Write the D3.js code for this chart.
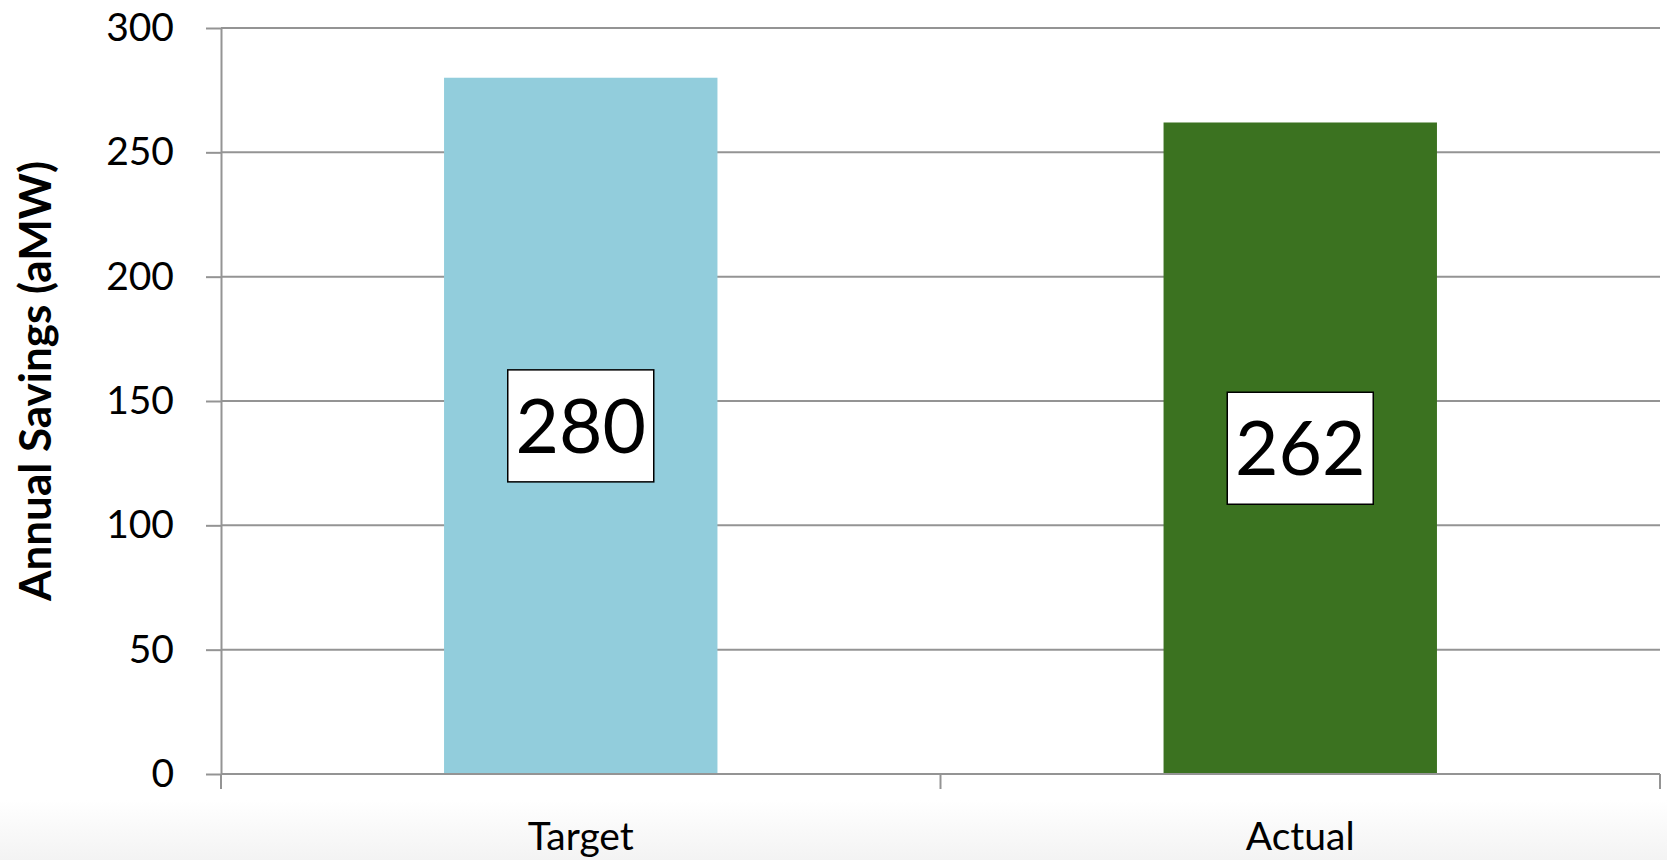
<!DOCTYPE html>
<html>
<head>
<meta charset="utf-8">
<title>Annual Savings</title>
<script src="https://cdn.jsdelivr.net/npm/d3@7"></script>
<style>
body { margin: 0; background: #fff; }
text { font-family: Lato, "Open Sans", sans-serif; fill: #000; }
.grid line { stroke: #949494; stroke-width: 2px; }
.axis path, .axis line { stroke: #949494; stroke-width: 2px; }
</style>
</head>
<body>
<svg width="1667" height="860"></svg>
<script>

var categories = ["Target", "Actual"];
var values = [280, 262];
var colors = ["#92cddc", "#3b7220"];
var yTicks = [0, 50, 100, 150, 200, 250, 300];
var yTitle = "Annual Savings (aMW)";

var svg = d3.select("svg"),
	width = +svg.attr("width"),
	height = +svg.attr("height");

var margin = {top: 28, right: 7, bottom: 86, left: 221};

// faint grey band at the foot of the slide
var defs = svg.append("defs");
var grad = defs.append("linearGradient")
	.attr("id", "foot")
	.attr("x1", 0).attr("y1", 0).attr("x2", 0).attr("y2", 1);
grad.append("stop").attr("offset", "0%").attr("stop-color", "#ffffff");
grad.append("stop").attr("offset", "100%").attr("stop-color", "#f3f3f3");
svg.append("rect")
	.attr("x", 0).attr("y", 800)
	.attr("width", width).attr("height", height - 800)
	.attr("fill", "url(#foot)");

var x = d3.scaleBand()
	.domain(categories)
	.range([margin.left, width - margin.right]);

var y = d3.scaleLinear()
	.domain([0, 300])
	.range([height - margin.bottom, margin.top]);

// horizontal gridlines
svg.append("g")
	.attr("class", "grid")
  .selectAll("line")
  .data(yTicks)
  .enter().append("line")
	.attr("x1", margin.left)
	.attr("x2", width - margin.right)
	.attr("y1", function(d) { return y(d); })
	.attr("y2", function(d) { return y(d); });

var barW = x.bandwidth() * 0.38;

svg.append("g")
  .selectAll("rect")
  .data(values)
  .enter().append("rect")
	.attr("x", function(d, i) { return x(categories[i]) + (x.bandwidth() - barW) / 2; })
	.attr("width", barW)
	.attr("y", function(d) { return y(d); })
	.attr("height", function(d) { return y(0) - y(d); })
	.attr("fill", function(d, i) { return colors[i]; });

// y axis
var yAxis = svg.append("g")
	.attr("class", "axis")
	.attr("transform", "translate(" + margin.left + ",0)")
	.call(d3.axisLeft(y).tickValues(yTicks).tickSize(15).tickPadding(32).tickSizeOuter(0));
yAxis.selectAll("text")
	.style("font-size", "39px")
	.attr("font-family", null);

// x axis: ticks sit on the category boundaries
var xAxis = svg.append("g")
	.attr("class", "axis")
	.attr("transform", "translate(0," + y(0) + ")");
xAxis.append("line")
	.attr("x1", margin.left).attr("x2", width - margin.right);
xAxis.selectAll(".bound")
  .data([0, 1, 2])
  .enter().append("line")
	.attr("class", "bound")
	.attr("x1", function(d) { return margin.left + d * x.step(); })
	.attr("x2", function(d) { return margin.left + d * x.step(); })
	.attr("y1", 0)
	.attr("y2", 15);
xAxis.selectAll("text")
  .data(categories)
  .enter().append("text")
	.attr("x", function(d) { return x(d) + x.bandwidth() / 2; })
	.attr("y", 76)
	.attr("text-anchor", "middle")
	.style("font-size", "39px")
	.text(function(d) { return d; });

// value labels in boxes at bar middle
var labels = svg.append("g")
  .selectAll("g")
  .data(values)
  .enter().append("g")
	.attr("transform", function(d, i) {
	  return "translate(" + (x(categories[i]) + x.bandwidth() / 2) + "," + ((y(d) + y(0)) / 2) + ")";
	});
labels.append("rect")
	.attr("x", -73).attr("y", -56)
	.attr("width", 146).attr("height", 112)
	.attr("fill", "#fff")
	.attr("stroke", "#000")
	.attr("stroke-width", 1.5);
labels.append("text")
	.attr("text-anchor", "middle")
	.attr("dy", "0.36em")
	.style("font-size", "75px")
	.text(function(d) { return d; });

// y title
svg.append("text")
	.attr("transform", "translate(51," + ((y(0) + y(300)) / 2 - 20) + ") rotate(-90)")
	.attr("text-anchor", "middle")
	.style("font-size", "44px")
	.style("font-weight", "bold")
	.text(yTitle);

</script>
</body>
</html>
